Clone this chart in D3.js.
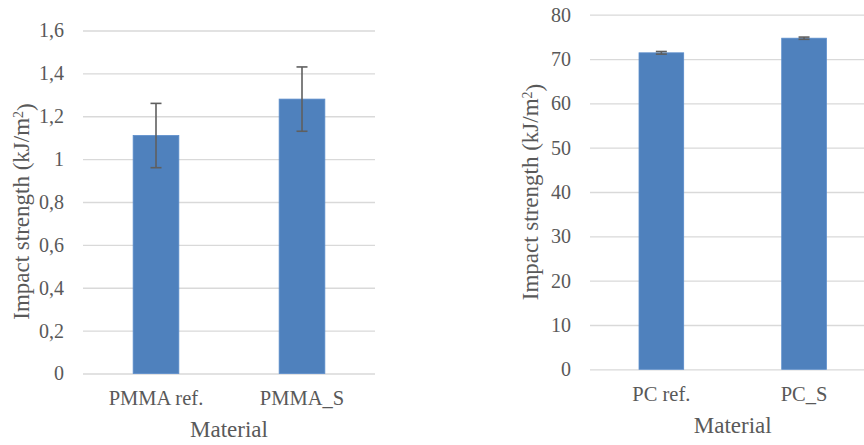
<!DOCTYPE html>
<html>
<head>
<meta charset="utf-8">
<script src="https://cdn.jsdelivr.net/npm/d3@7"></script>
<style>
  html, body { margin: 0; padding: 0; background: #fff; }
  svg { display: block; }
</style>
</head>
<body>
<svg id="chart" width="864" height="445"></svg>
<script>
// ---- Data ----
const pmmaCategories = ["PMMA ref.", "PMMA_S"];
const pmmaValues = [1.11, 1.28];
const pmmaErrors = [0.15, 0.15];
const pmmaTicks = [0, 0.2, 0.4, 0.6, 0.8, 1, 1.2, 1.4, 1.6];

const pcCategories = ["PC ref.", "PC_S"];
const pcValues = [71.4, 74.7];
const pcErrors = [0.3, 0.25];
const pcTicks = [0, 10, 20, 30, 40, 50, 60, 70, 80];

const xTitle = "Material";
const yTitle = "Impact strength (kJ/m";

const FONT = "Liberation Serif";
const TXT = "#595959";
const svg = d3.select("#chart");
const barColor = "#4F81BD";
const gridColor = "#d9d9d9";
const errColor = "#5f5f5f";

function drawPanel(cfg) {
  const g = svg.append("g");
  const x = d3.scaleBand().domain(cfg.categories).range([cfg.left, cfg.right])
    .paddingInner(0.687).paddingOuter(0.3435);
  const y = d3.scaleLinear().domain([0, d3.max(cfg.ticks)]).range([cfg.bottom, cfg.top]);
  const fmt = v => d3.format("")(v).replace(".", ",");

  // gridlines + y tick labels
  const yAxis = d3.axisLeft(y).tickValues(cfg.ticks)
    .tickSize(-(cfg.right - cfg.left)).tickPadding(19).tickFormat(fmt);
  const ya = g.append("g").attr("transform", `translate(${cfg.left},0)`).call(yAxis);
  ya.attr("font-family", null).attr("font-size", null);
  ya.select(".domain").remove();
  ya.selectAll(".tick line").attr("stroke", gridColor).attr("stroke-width", 1.3);
  ya.selectAll(".tick text").attr("fill", TXT)
    .style("font-family", FONT).style("font-size", "20px");

  // bars
  g.selectAll("rect.bar").data(cfg.values).enter().append("rect")
    .attr("class", "bar")
    .attr("x", (d, i) => x(cfg.categories[i]))
    .attr("width", x.bandwidth())
    .attr("y", d => y(d))
    .attr("height", d => y(0) - y(d))
    .attr("fill", barColor)
    .attr("stroke", "#5a8ccb").attr("stroke-width", 0.8);

  // error bars
  const capW = 11;
  cfg.values.forEach((v, i) => {
    const cx = x(cfg.categories[i]) + x.bandwidth() / 2;
    const e = cfg.errors[i];
    g.append("line").attr("x1", cx).attr("x2", cx)
      .attr("y1", y(v + e)).attr("y2", y(v - e))
      .attr("stroke", errColor).attr("stroke-width", 1.6);
    [v + e, v - e].forEach(t => {
      g.append("line").attr("x1", cx - capW / 2).attr("x2", cx + capW / 2)
        .attr("y1", y(t)).attr("y2", y(t))
        .attr("stroke", errColor).attr("stroke-width", 1.6);
    });
  });

  // x tick labels
  g.selectAll("text.xl").data(cfg.categories).enter().append("text")
    .attr("class", "xl")
    .attr("x", d => x(d) + x.bandwidth() / 2)
    .attr("y", cfg.bottom + 31.5)
    .attr("text-anchor", "middle")
    .attr("fill", TXT)
    .style("font-family", FONT).style("font-size", "20.5px")
    .text(d => d);

  // x title
  g.append("text")
    .attr("x", (cfg.left + cfg.right) / 2)
    .attr("y", cfg.bottom + 63.5)
    .attr("text-anchor", "middle")
    .attr("fill", TXT)
    .style("font-family", FONT).style("font-size", "23px")
    .text(xTitle);

  // y title
  const t = g.append("text")
    .attr("transform", `translate(${cfg.titleX},${(cfg.top + cfg.bottom) / 2 + cfg.titleDY}) rotate(-90)`)
    .attr("text-anchor", "middle")
    .attr("fill", TXT)
    .style("font-family", FONT).style("font-size", "23px");
  t.append("tspan").text(yTitle);
  t.append("tspan").attr("dy", "-0.45em").style("font-size", "14px").text("2");
  t.append("tspan").attr("dy", "0.45em").text(")");
}

drawPanel({
  categories: pmmaCategories, values: pmmaValues, errors: pmmaErrors, ticks: pmmaTicks,
  left: 83, right: 375, top: 30.5, bottom: 373.5, titleX: 29, titleDY: 9.5
});
drawPanel({
  categories: pcCategories, values: pcValues, errors: pcErrors, ticks: pcTicks,
  left: 590, right: 875.4, top: 14.7, bottom: 369.3, titleX: 538, titleDY: 0
});
</script>
</body>
</html>
